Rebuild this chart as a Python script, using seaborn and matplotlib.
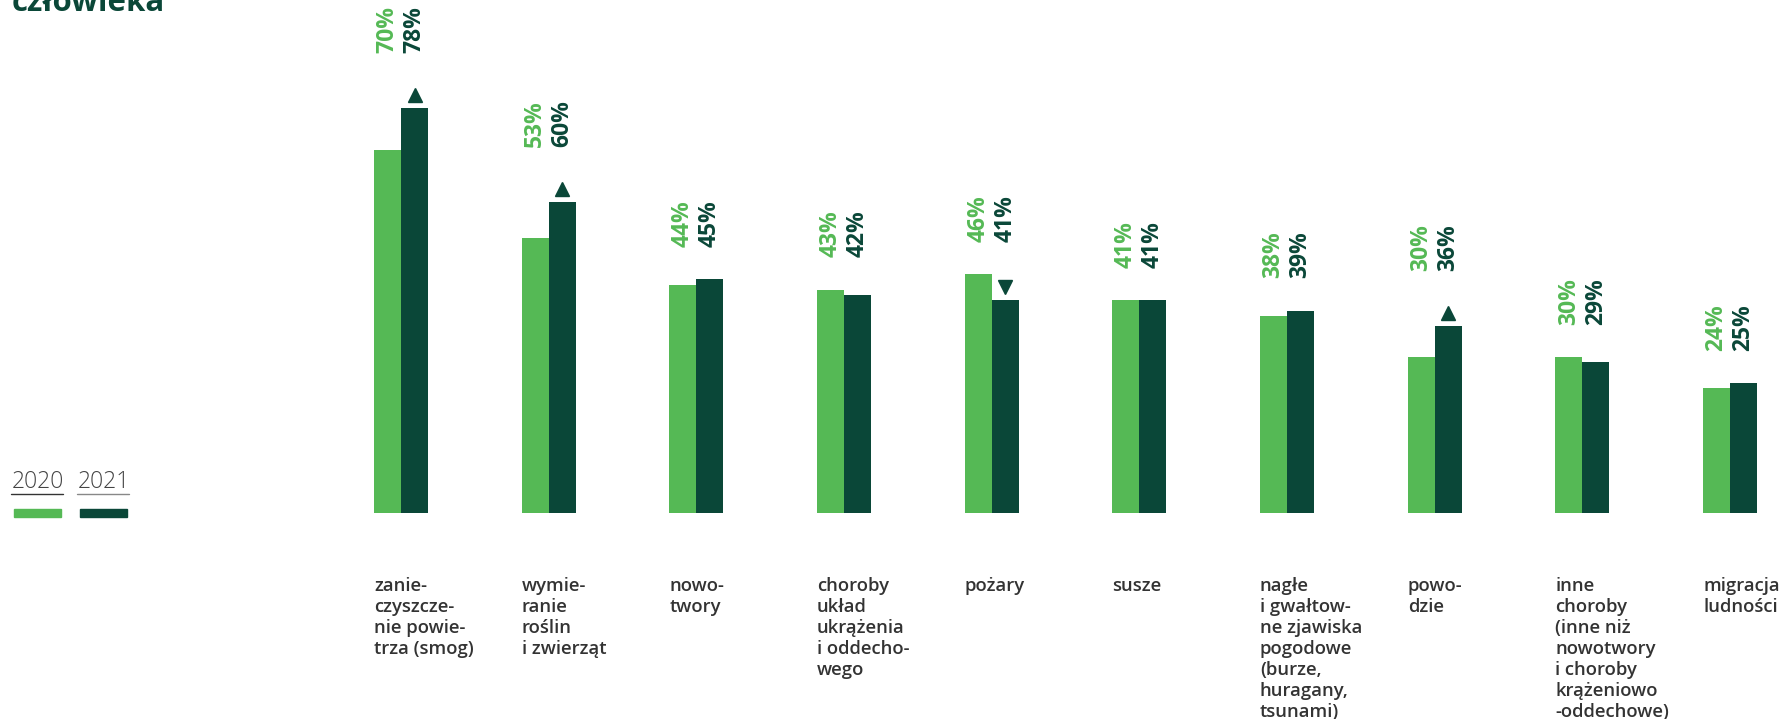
import matplotlib
matplotlib.use("Agg")
import matplotlib.pyplot as plt
import seaborn as sns
import pandas as pd
from matplotlib.patches import Rectangle
from matplotlib.lines import Line2D

# --- dane ---
kategorie = [
    "zanie-\nczyszcze-\nnie powie-\ntrza (smog)",
    "wymie-\nranie\nroślin\ni zwierząt",
    "nowo-\ntwory",
    "choroby\nukład\nukrążenia\ni oddecho-\nwego",
    "pożary",
    "susze",
    "nagłe\ni gwałtow-\nne zjawiska\npogodowe\n(burze,\nhuragany,\ntsunami)",
    "powo-\ndzie",
    "inne\nchoroby\n(inne niż\nnowotwory\ni choroby\nkrążeniowo\n-oddechowe)",
    "migracja\nludności",
]
lata = ["2020", "2021"]
wyniki_2020 = [70, 53, 44, 43, 46, 41, 38, 30, 30, 24]
wyniki_2021 = [78, 60, 45, 42, 41, 41, 39, 36, 29, 25]
zmiana = ["up", "up", "", "", "down", "", "", "up", "", ""]
tytul = "człowieka"

ZIELONY = "#55b955"
CIEMNY = "#0a4738"
W, H = 1785, 719

df = pd.DataFrame({
    "kategoria": kategorie * 2,
    "rok": [lata[0]] * len(kategorie) + [lata[1]] * len(kategorie),
    "wartosc": wyniki_2020 + wyniki_2021,
})

sns.set_style("white")
plt.rcParams["font.family"] = ["Open Sans", "DejaVu Sans"]

fig = plt.figure(figsize=(W / 100, H / 100), dpi=100)
ax = fig.add_axes([0, 0, 1, 1])

szer = 0.366
sns.barplot(data=df, x="kategoria", y="wartosc", hue="rok",
            palette=[ZIELONY, CIEMNY], width=szer, saturation=1,
            linewidth=0, errorbar=None, legend=False, ax=ax)

# skala: 147.67 px na kategorię, 5.19 px na punkt procentowy
ax.set_xlim(-401 / 147.67, (W - 401) / 147.67)
ax.set_ylim(-(H - 513) / 5.19, 513 / 5.19)
ax.axis("off")

for i, (a, b) in enumerate(zip(wyniki_2020, wyniki_2021)):
    top = max(a, b)
    off = 10.6 if zmiana[i] == "up" else 6.3
    ax.text(i - szer / 4, top + off, f"{a}%", rotation=90, ha="center",
            va="bottom", color=ZIELONY, fontsize=16.5, fontweight="bold")
    ax.text(i + szer / 4, top + off, f"{b}%", rotation=90, ha="center",
            va="bottom", color=CIEMNY, fontsize=16.5, fontweight="bold")
    if zmiana[i]:
        ax.plot(i + szer / 4, b + 2.5, marker="^" if zmiana[i] == "up" else "v",
                color=CIEMNY, markersize=10, linestyle="none")
    # podpis kategorii pod słupkami
    ax.text(i - szer / 2, -12.3, kategorie[i], ha="left", va="top",
            fontsize=13.3, fontweight="semibold", color="#333333",
            linespacing=1.22)

# tytuł (ucięty u góry)
fig.text(12 / W, 1 - 11 / H, tytul, fontsize=22.5, fontweight="bold",
         color=CIEMNY, ha="left", va="baseline")

# legenda
for x0, rok, kol, kol_linii in [(12, lata[0], ZIELONY, "#333333"),
                                (78, lata[1], CIEMNY, "#888888")]:
    fig.text(x0 / W, 1 - 488 / H, rok, fontsize=16.5, fontweight="light",
             color="#444444", ha="left", va="baseline")
    fig.add_artist(Line2D([(x0 - 1) / W, (x0 + 51) / W], [1 - 494 / H] * 2,
                          lw=1, color=kol_linii, transform=fig.transFigure))
    fig.add_artist(Rectangle(((x0 + 2) / W, 1 - 517 / H), 47 / W, 8 / H,
                             color=kol, transform=fig.transFigure))

fig.savefig("out.png", dpi=100)
